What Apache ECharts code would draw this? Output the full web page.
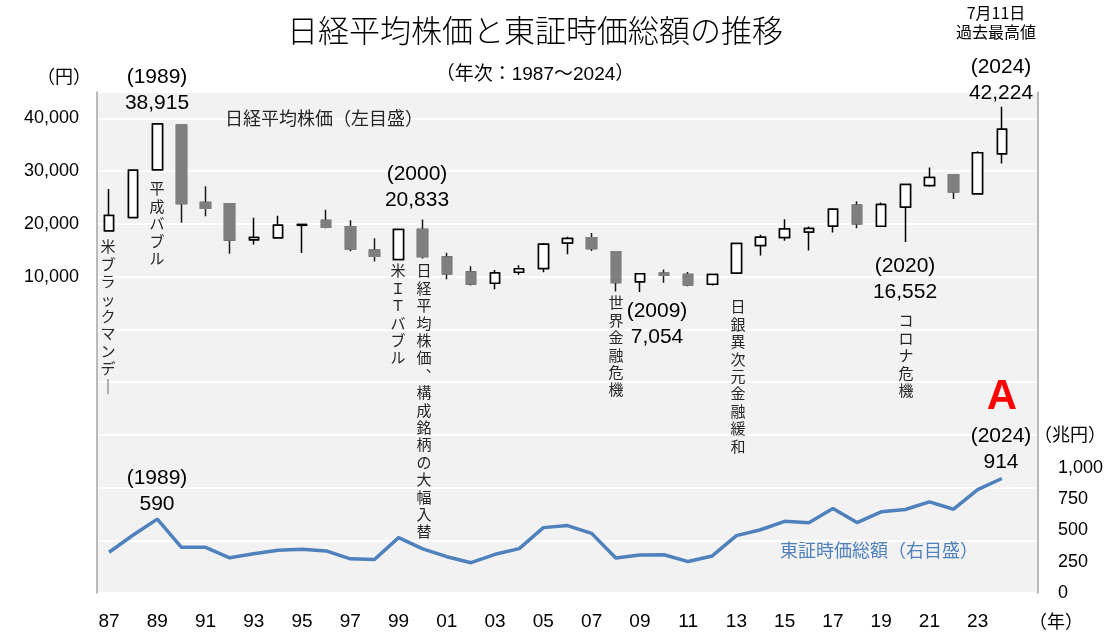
<!DOCTYPE html>
<html>
<head>
<meta charset="utf-8">
<script src="https://cdn.jsdelivr.net/npm/echarts@6/dist/echarts.min.js"></script>
<style>
    html, body { margin: 0; padding: 0; background: #fff; }
    #chart { width: 1113px; height: 634px; }
</style>
</head>
<body>
<div id="chart"></div>
<script>
// 年次 1987〜2024
var years = ['1987', '1988', '1989', '1990', '1991', '1992', '1993', '1994', '1995', '1996',
    '1997', '1998', '1999', '2000', '2001', '2002', '2003', '2004', '2005', '2006',
    '2007', '2008', '2009', '2010', '2011', '2012', '2013', '2014', '2015', '2016',
    '2017', '2018', '2019', '2020', '2021', '2022', '2023', '2024'];

// 日経平均株価（円）: 始値・終値・安値・高値
var nkOpen = [18700, 21220, 30240, 38710, 24070, 23800, 16990, 17370, 19720, 20620,
    19450, 15000, 13230, 18937, 13690, 10871, 8713, 10825, 11517, 16362,
    17353, 14691, 9043, 10654, 10398, 8560, 10688, 15908, 17408, 18451,
    19594, 23507, 19561, 23205, 27258, 29301, 25717, 33288];
var nkClose = [21560, 30160, 38915, 23850, 22980, 16920, 17420, 19720, 19870, 19360,
    15260, 13840, 18934, 13786, 10543, 8579, 10677, 11489, 16111, 17226,
    15308, 8860, 10546, 10229, 8455, 10395, 16291, 17451, 19034, 19114,
    22765, 20015, 23657, 27444, 28792, 26095, 33464, 37920];
var nkLow = [18550, 21200, 30180, 20220, 21460, 14310, 16080, 17370, 14490, 19160,
    14780, 12880, 13230, 13423, 9504, 8304, 7607, 10365, 10825, 14219,
    14838, 7163, 7054, 8824, 8160, 8296, 10486, 14009, 16796, 14952,
    18336, 19156, 19561, 16552, 27013, 24718, 25717, 31458];
var nkHigh = [26600, 30160, 38915, 38710, 27150, 23800, 21150, 21550, 19870, 22670,
    20680, 17260, 18934, 20833, 14529, 11980, 11238, 12164, 16345, 17564,
    18262, 14691, 10640, 11339, 10858, 10395, 16291, 17935, 20868, 19494,
    22939, 24271, 24066, 27568, 30670, 29332, 33753, 42224];

// 東証時価総額（兆円）
var tseCap = [325, 463, 590, 365, 365, 281, 313, 342, 350, 336,
    273, 267, 442, 352, 290, 242, 309, 354, 522, 538,
    476, 279, 303, 305, 251, 296, 458, 505, 572, 560,
    674, 562, 648, 667, 728, 669, 826, 914];

var leftTicks = [10000, 20000, 30000, 40000];
var rightTicks = [0, 250, 500, 750, 1000];

var NUM = "'Liberation Sans', 'Noto Sans CJK JP', sans-serif";
var JP = "'Noto Sans CJK JP', 'Liberation Sans', sans-serif";

function fmt(v) {
    return String(v).replace(/\B(?=(\d{3})+(?!\d))/g, ',');
}

function txt(x, y, text, size, opt) {
    opt = opt || {};
    return {
        type: 'text', x: x, y: y, z: 100,
        style: {
            text: text,
            font: (opt.weight ? opt.weight + ' ' : '') + size + 'px ' + (opt.family || NUM),
            fill: opt.color || '#000',
            align: opt.align || 'center', textAlign: opt.align || 'center',
            verticalAlign: opt.va || 'middle', textVerticalAlign: opt.va || 'middle',
            lineHeight: opt.lh || Math.round(size * 1.25)
        }
    };
}

// 縦書きの注記
function vtxt(x, y, str) {
    return txt(x, y, Array.from(str).join('\n'), 15, {family: JP, color: '#262626', va: 'top', lh: 17.4});
}

var cats = years.concat(['']);
var candles = [], bodies = [];
for (var i = 0; i < years.length; i++) {
    candles.push([nkOpen[i], nkClose[i], nkLow[i], nkHigh[i]]);
    bodies.push([nkOpen[i], nkClose[i], Math.min(nkOpen[i], nkClose[i]), Math.max(nkOpen[i], nkClose[i])]);
}

var i89 = years.indexOf('1989'), i00 = years.indexOf('2000'), i09 = years.indexOf('2009'),
    i20 = years.indexOf('2020'), i24 = years.indexOf('2024');

var graphics = [
    txt(535, 30, '日経平均株価と東証時価総額の推移', 31, {family: JP, weight: 300}),
    txt(535, 75, '（年次：1987〜2024）', 19, {}),
    txt(64, 76, '（円）', 18, {family: JP}),
    txt(1070, 434, '（兆円）', 18, {family: JP}),
    txt(1056, 621, '（年）', 18, {family: JP}),
    txt(225, 118, '日経平均株価（左目盛）', 18, {family: JP, align: 'left', color: '#262626'}),
    txt(780, 550, '東証時価総額（右目盛）', 18, {family: JP, align: 'left', color: '#4f81bd'}),
    txt(157, 90, '(' + years[i89] + ')\n' + fmt(nkHigh[i89]), 21, {lh: 26}),
    txt(417, 187, '(' + years[i00] + ')\n' + fmt(nkHigh[i00]), 21, {lh: 26}),
    txt(657, 324, '(' + years[i09] + ')\n' + fmt(nkLow[i09]), 21, {lh: 26}),
    txt(905, 279, '(' + years[i20] + ')\n' + fmt(nkLow[i20]), 21, {lh: 26}),
    txt(1001, 80, '(' + years[i24] + ')\n' + fmt(nkHigh[i24]), 21, {lh: 26}),
    txt(996, 22, '7月11日\n過去最高値', 16, {family: JP, lh: 19}),
    txt(157, 491, '(' + years[i89] + ')\n' + fmt(tseCap[i89]), 21, {lh: 26}),
    txt(1001, 449, '(' + years[i24] + ')\n' + fmt(tseCap[i24]), 21, {lh: 26}),
    txt(1002, 397, 'A', 42, {weight: 'bold', color: '#ff0000'}),
    vtxt(108, 238, '米ブラックマンデ｜'),
    vtxt(157, 180, '平成バブル'),
    vtxt(398, 262, '米ＩＴバブル'),
    vtxt(424, 262, '日経平均株価︑構成銘柄の大幅入替'),
    vtxt(616, 294, '世界金融危機'),
    vtxt(738, 298, '日銀異次元金融緩和'),
    vtxt(906, 312, 'コロナ危機')
];

var chart = echarts.init(document.getElementById('chart'));
var option = {
    backgroundColor: '#fff',
    animation: false,
    grid: {
        left: 97, right: 75, top: 92, bottom: 41,
        show: true, backgroundColor: '#f2f2f2', borderWidth: 0
    },
    xAxis: {
        type: 'category',
        data: cats,
        boundaryGap: true,
        axisLine: {show: false, onZero: false},
        axisTick: {show: false},
        axisLabel: {
            interval: 1,
            margin: 19,
            color: '#000',
            fontSize: 19,
            fontFamily: NUM,
            formatter: function (v) { return v ? v.slice(2) : ''; }
        },
        splitLine: {show: false}
    },
    yAxis: [
        {
            type: 'value',
            min: -50000, max: 45000, interval: 10000,
            axisLine: {show: true, lineStyle: {color: '#a6a6a6', width: 1.5}},
            axisTick: {show: false},
            splitLine: {show: true, lineStyle: {color: '#ffffff', width: 2}},
            axisLabel: {
                margin: 18,
                color: '#000',
                fontSize: 18,
                fontFamily: NUM,
                formatter: function (v) { return leftTicks.indexOf(v) >= 0 ? fmt(v) : ''; }
            }
        },
        {
            type: 'value',
            min: 0, max: 4000, interval: 250,
            position: 'right',
            axisLine: {show: true, lineStyle: {color: '#a6a6a6', width: 1.5}},
            axisTick: {show: false},
            splitLine: {show: false},
            axisLabel: {
                margin: 20,
                color: '#000',
                fontSize: 18,
                fontFamily: NUM,
                formatter: function (v) { return rightTicks.indexOf(v) >= 0 ? fmt(v) : ''; }
            }
        }
    ],
    series: [
        {
            name: '日経平均株価',
            type: 'candlestick',
            data: candles,
            barWidth: 10,
            itemStyle: {
                color: '#ffffff', color0: '#7f7f7f',
                borderColor: '#000000', borderColor0: '#1a1a1a',
                borderWidth: 1.5
            }
        },
        {
            name: '日経平均株価 body',
            type: 'candlestick',
            data: bodies,
            barWidth: 10,
            itemStyle: {
                color: '#ffffff', color0: '#7f7f7f',
                borderColor: '#000000', borderColor0: '#7f7f7f',
                borderWidth: 1.5
            }
        },
        {
            name: '東証時価総額',
            type: 'line',
            yAxisIndex: 1,
            data: tseCap,
            symbol: 'none',
            lineStyle: {color: '#4f81bd', width: 3.5},
            z: 5
        }
    ],
    graphic: graphics
};
chart.setOption(option);
</script>
</body>
</html>
